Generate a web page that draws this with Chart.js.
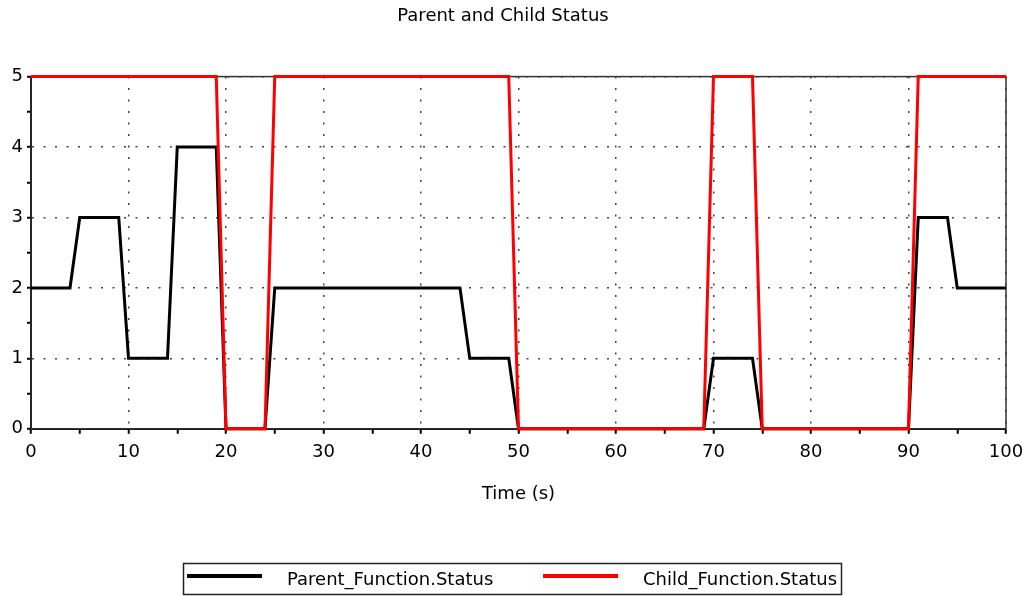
<!DOCTYPE html>
<html>
<head>
<meta charset="utf-8">
<title>Parent and Child Status</title>
<script src="https://cdn.jsdelivr.net/npm/chart.js@4/dist/chart.umd.min.js"></script>
<style>
  body { margin: 0; background: #fff; }
  #wrap { width: 1028px; height: 596px; }
</style>
</head>
<body>
<div id="wrap"><canvas id="statusChart" width="1028" height="596"></canvas></div>
<script>
// values (time in s, status level)
var parentTime   = [0, 4, 5, 9, 10, 14, 15, 19, 20, 24, 25, 44, 45, 49, 50, 69, 70, 74, 75, 90, 91, 94, 95, 100];
var parentStatus = [2, 2, 3, 3, 1, 1, 4, 4, 0, 0, 2, 2, 1, 1, 0, 0, 1, 1, 0, 0, 3, 3, 2, 2];
var childTime    = [0, 19, 20, 24, 25, 49, 50, 69, 70, 74, 75, 90, 91, 100];
var childStatus  = [5, 5, 0, 0, 5, 5, 0, 0, 5, 5, 0, 0, 5, 5];

var seriesNames  = ['Parent_Function.Status', 'Child_Function.Status'];
var seriesColors = ['#000000', '#ff0000'];

function toPoints(xs, ys) {
    return xs.map(function (x, i) { return {x: x, y: ys[i]}; });
}

Chart.defaults.font.family = '"DejaVu Sans", sans-serif';
Chart.defaults.font.size = 18;
Chart.defaults.color = '#000';

// box round the plot area (top and right edges too)
const frameBox = {
    id: 'frameBox',
    beforeDatasetsDraw(chart) {
        const a = chart.chartArea;
        const ctx = chart.ctx;
        ctx.save();
        ctx.strokeStyle = '#333';
        ctx.lineWidth = 1.5;
        ctx.strokeRect(a.left, a.top, a.right - a.left, a.bottom - a.top);
        ctx.restore();
    }
};

// legend in a framed box under the axis title
const boxLegend = {
    id: 'boxLegend',
    afterDraw(chart) {
        const ctx = chart.ctx;
        const itemX = [187, 543];
        const lineLen = 75;
        const lineY = 576;
        ctx.save();
        ctx.strokeStyle = '#222';
        ctx.lineWidth = 1.5;
        ctx.strokeRect(183.5, 563.5, 658, 31);
        ctx.font = '18px "DejaVu Sans"';
        ctx.textBaseline = 'middle';
        ctx.textAlign = 'left';
        chart.data.datasets.forEach(function (ds, i) {
            ctx.strokeStyle = ds.borderColor;
            ctx.lineWidth = 4;
            ctx.beginPath();
            ctx.moveTo(itemX[i], lineY);
            ctx.lineTo(itemX[i] + lineLen, lineY);
            ctx.stroke();
            ctx.fillStyle = '#000';
            ctx.fillText(ds.label, itemX[i] + lineLen + 25, 580);
        });
        ctx.restore();
    }
};

var ctx = document.getElementById('statusChart').getContext('2d');
window.statusChart = new Chart(ctx, {
    type: 'line',
    data: {
        datasets: [
            {
                label: seriesNames[0],
                data: toPoints(parentTime, parentStatus),
                borderColor: seriesColors[0],
                backgroundColor: seriesColors[0],
                borderWidth: 3,
                pointRadius: 0,
                tension: 0,
                clip: false,
                order: 1
            },
            {
                label: seriesNames[1],
                data: toPoints(childTime, childStatus),
                borderColor: seriesColors[1],
                backgroundColor: seriesColors[1],
                borderWidth: 3,
                pointRadius: 0,
                tension: 0,
                clip: false,
                order: 0
            }
        ]
    },
    options: {
        responsive: false,
        animation: false,
        devicePixelRatio: 1,
        layout: { padding: { left: 0, right: 22, top: 0, bottom: 0 } },
        plugins: {
            legend: { display: false },
            tooltip: { enabled: false },
            title: {
                display: true,
                text: 'Parent and Child Status',
                font: { size: 18, weight: 'normal' },
                color: '#000',
                padding: { top: 6, bottom: 49 }
            }
        },
        scales: {
            x: {
                type: 'linear',
                min: 0,
                max: 100,
                ticks: {
                    stepSize: 5,
                    autoSkip: false,
                    maxRotation: 0,
                    padding: 8,
                    callback: function (v) { return v % 10 === 0 ? v : ''; }
                },
                grid: {
                    color: function (c) { return c.tick && c.tick.value % 10 === 0 ? '#444' : 'rgba(0,0,0,0)'; },
                    lineWidth: 1.5,
                    tickColor: '#000',
                    tickWidth: 2,
                    tickLength: 5,
                    tickBorderDash: []
                },
                border: { color: '#000', width: 2, dash: [2, 9.5] },
                title: {
                    display: true,
                    text: 'Time (s)',
                    font: { size: 18 },
                    padding: { top: 12, bottom: 91 }
                },
                afterFit: function (scale) { scale.paddingLeft = 0; scale.paddingRight = 0; }
            },
            y: {
                min: 0,
                max: 5,
                ticks: {
                    stepSize: 0.5,
                    padding: 4,
                    callback: function (v) { return Number.isInteger(v) ? v : ''; }
                },
                grid: {
                    color: function (c) { return c.tick && Number.isInteger(c.tick.value) ? '#444' : 'rgba(0,0,0,0)'; },
                    lineWidth: 1.5,
                    tickColor: '#000',
                    tickWidth: 2,
                    tickLength: 4,
                    tickBorderDash: []
                },
                border: { color: '#000', width: 2, dash: [2, 9.5] },
                afterFit: function (scale) { scale.width = 31; }
            }
        }
    },
    plugins: [frameBox, boxLegend]
});
</script>
</body>
</html>
